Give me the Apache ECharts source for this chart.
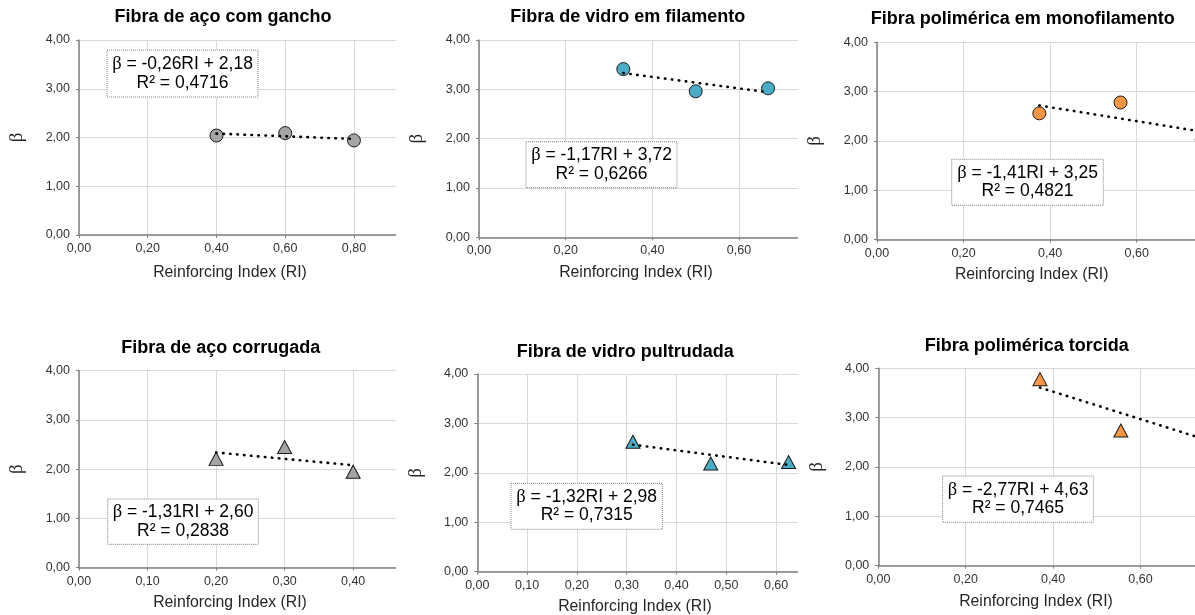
<!DOCTYPE html>
<html>
<head>
<meta charset="utf-8">
<script src="https://cdn.jsdelivr.net/npm/echarts@6/dist/echarts.min.js"></script>
<style>
  html, body { margin: 0; padding: 0; background: #fff; }
  #page { position: relative; width: 1195px; height: 615px; overflow: hidden; background: #fff; }
  .clip { position: absolute; overflow: hidden; }
  .chart { position: absolute; left: 0; top: 0; }
</style>
</head>
<body>
<div id="page"></div>
<script>
// ---------------- DATA ----------------
const titles = [
  'Fibra de aço com gancho',
  'Fibra de vidro em filamento',
  'Fibra polimérica em monofilamento',
  'Fibra de aço corrugada',
  'Fibra de vidro pultrudada',
  'Fibra polimérica torcida'
];
const riSteelHook  = [0.40, 0.60, 0.80];
const betaSteelHook = [2.04, 2.09, 1.94];
const riGlassFil   = [0.333, 0.500, 0.667];
const betaGlassFil  = [3.41, 2.96, 3.02];
const riPolyMono   = [0.375, 0.5625, 0.75];
const betaPolyMono  = [2.56, 2.78, 2.03];
const riSteelCorr  = [0.20, 0.30, 0.40];
const betaSteelCorr = [2.21, 2.45, 1.95];
const riGlassPult  = [0.3125, 0.46875, 0.625];
const betaGlassPult = [2.63, 2.19, 2.22];
const riPolyTwist  = [0.37, 0.555, 0.74];
const betaPolyTwist = [3.78, 2.74, 2.75];

// trend line values at the first and last RI of each series
const trendSteelHook  = [2.08, 1.97];
const trendGlassFil   = [3.33, 2.94];
const trendPolyMono   = [2.72, 2.19];
const trendSteelCorr  = [2.34, 2.08];
const trendGlassPult  = [2.57, 2.16];
const trendPolyTwist  = [3.61, 2.58];

const equations = ['-0,26RI + 2,18', '-1,17RI + 3,72', '-1,41RI + 3,25', '-1,31RI + 2,60', '-1,32RI + 2,98', '-2,77RI + 4,63'];
const rSquared  = ['0,4716', '0,6266', '0,4821', '0,2838', '0,7315', '0,7465'];

const yTicks = [0, 1, 2, 3, 4];
const xMaxes = [1.0, 0.8, 0.8, 0.5, 0.7, 0.8];
const xIntervals = [0.2, 0.2, 0.2, 0.1, 0.1, 0.2];
const xAxisTitle = 'Reinforcing Index (RI)';
const yAxisTitle = 'β';

const riSets = [riSteelHook, riGlassFil, riPolyMono, riSteelCorr, riGlassPult, riPolyTwist];
const betaSets = [betaSteelHook, betaGlassFil, betaPolyMono, betaSteelCorr, betaGlassPult, betaPolyTwist];
const trendSets = [trendSteelHook, trendGlassFil, trendPolyMono, trendSteelCorr, trendGlassPult, trendPolyTwist];

// ---------------- LAYOUT / STYLE ----------------
const colors = ['#a5a5a5', '#4bacc6', '#f79646', '#a5a5a5', '#4bacc6', '#f79646'];
const symbols = ['circle', 'circle', 'circle', 'triangle', 'triangle', 'triangle'];
const symbolSizes = [13, 13, 13, [14, 13], [14, 13], [14, 13]];

// page coordinates
const layouts = [
  { clip: {x: 0,   y: 0,   w: 396, h: 310}, gx: 72.7,  gt: 40,    gb: 235,   pw: 350,   title: [223, 17],    xt: [230, 273],   box: [107, 50, 151, 47] },
  { clip: {x: 396, y: 0,   w: 402, h: 310}, gx: 479,   gt: 40,    gb: 237.3, pw: 346.7, title: [627.7, 17],  xt: [636, 273],   box: [526, 141.7, 151, 46] },
  { clip: {x: 798, y: 0,   w: 397, h: 310}, gx: 873.3, gt: 42.3,  gb: 239.7, pw: 350,   title: [1022.7, 19], xt: [1031.7, 275], box: [951.7, 159.3, 151.6, 46] },
  { clip: {x: 0,   y: 310, w: 396, h: 305}, gx: 71.7,  gt: 370.7, gb: 567.7, pw: 350,   title: [220.7, 348.3], xt: [230, 603], box: [107.7, 499, 150.6, 45.3] },
  { clip: {x: 396, y: 310, w: 402, h: 305}, gx: 477.3, gt: 374,   gb: 571.7, pw: 348.6, title: [625.3, 351.7], xt: [635, 606.7], box: [511, 483.3, 151.3, 46] },
  { clip: {x: 798, y: 310, w: 397, h: 305}, gx: 878.3, gt: 368.3, gb: 565.7, pw: 349.6, title: [1026.7, 346], xt: [1036, 601.7], box: [942.7, 476, 150.6, 46.3] }
];

const fmt = v => v.toFixed(2).replace('.', ',');
const page = document.getElementById('page');

layouts.forEach((L, i) => {
  const c = L.clip;
  const clipDiv = document.createElement('div');
  clipDiv.className = 'clip';
  Object.assign(clipDiv.style, {left: c.x + 'px', top: c.y + 'px', width: c.w + 'px', height: c.h + 'px'});
  const chartDiv = document.createElement('div');
  chartDiv.className = 'chart';
  chartDiv.style.width = '480px';
  chartDiv.style.height = c.h + 'px';
  clipDiv.appendChild(chartDiv);
  page.appendChild(clipDiv);

  const chart = echarts.init(chartDiv, null, {renderer: 'canvas'});
  const ri = riSets[i], beta = betaSets[i], tr = trendSets[i];
  const pts = ri.map((x, k) => [x, beta[k]]);
  const trend = [[ri[0], tr[0]], [ri[ri.length - 1], tr[1]]];

  const option = {
    animation: false,
    grid: {
      left: L.gx - c.x,
      top: L.gt - c.y,
      width: L.pw,
      height: L.gb - L.gt,
      containLabel: false
    },
    xAxis: {
      type: 'value',
      min: 0,
      max: xMaxes[i],
      interval: xIntervals[i],
      axisLine: {show: true, onZero: false, lineStyle: {color: '#808080', width: 1.5}},
      axisTick: {show: true, length: 3, lineStyle: {color: '#808080'}},
      axisLabel: {formatter: fmt, color: '#333333', fontSize: 12.5, fontFamily: 'Liberation Sans, Arial', margin: 7},
      splitLine: {show: true, lineStyle: {color: '#d9d9d9', width: 1}}
    },
    yAxis: {
      type: 'value',
      min: yTicks[0],
      max: yTicks[yTicks.length - 1],
      interval: 1,
      name: yAxisTitle,
      nameLocation: 'middle',
      nameGap: 52,
      nameRotate: 90,
      nameTextStyle: {fontFamily: 'Liberation Serif, serif', fontSize: 19, color: '#262626'},
      axisLine: {show: true, lineStyle: {color: '#808080', width: 1.5}},
      axisTick: {show: true, length: 3, lineStyle: {color: '#808080'}},
      axisLabel: {formatter: fmt, color: '#333333', fontSize: 12.5, fontFamily: 'Liberation Sans, Arial', margin: 9},
      splitLine: {show: true, lineStyle: {color: '#d9d9d9', width: 1}}
    },
    series: [
      {
        type: 'scatter',
        data: pts,
        symbol: symbols[i],
        symbolSize: symbolSizes[i],
        itemStyle: {color: colors[i], borderColor: '#1a1a1a', borderWidth: 1, opacity: 1},
        z: 2
      },
      {
        type: 'line',
        data: trend,
        symbol: 'none',
        lineStyle: {color: '#000', width: 2.6, type: [0.5, 6.5], cap: 'round'},
        z: 3,
        silent: true
      }
    ],
    graphic: [
      {
        type: 'text',
        x: L.title[0] - c.x,
        y: L.title[1] - c.y,
        style: {text: titles[i], font: 'bold 18px "Liberation Sans", Arial', fill: '#000', align: 'center', verticalAlign: 'middle'}
      },
      {
        type: 'text',
        x: L.xt[0] - c.x,
        y: L.xt[1] - c.y,
        style: {text: xAxisTitle, font: '15.8px "Liberation Sans", Arial', fill: '#262626', align: 'center', verticalAlign: 'middle'}
      },
      {
        type: 'rect',
        shape: {x: L.box[0] - c.x, y: L.box[1] - c.y, width: L.box[2], height: L.box[3]},
        style: {fill: '#fff', stroke: '#808080', lineWidth: 1, lineDash: [1, 1]},
        z: 10
      },
      {
        type: 'text',
        x: L.box[0] - c.x + L.box[2] / 2,
        y: L.box[1] - c.y + L.box[3] / 2,
        z: 11,
        style: {
          text: '{b|β} = ' + equations[i] + '\nR² = ' + rSquared[i],
          font: '17.5px "Liberation Sans", Arial',
          fill: '#000',
          align: 'center',
          verticalAlign: 'middle',
          lineHeight: 18.5,
          rich: {b: {fontFamily: 'Liberation Serif', fontSize: 18.5, lineHeight: 18.5, fill: '#000'}}
        }
      }
    ]
  };
  chart.setOption(option);
});
</script>
</body>
</html>
